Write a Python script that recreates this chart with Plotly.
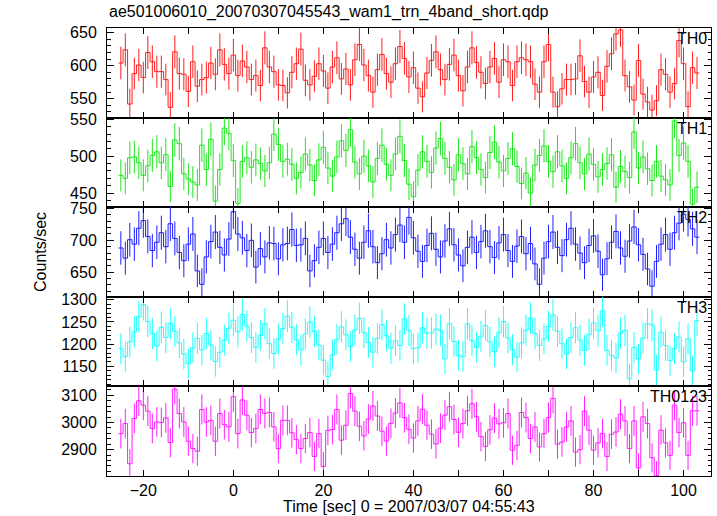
import numpy as np
import plotly.graph_objects as go
from plotly.subplots import make_subplots

# bin centres [sec], 1 s bins
time = list(range(-25, 104))

th0 = [604, 624, 542, 588, 601, 582, 620, 606, 591, 591, 579, 537, 621, 588, 587, 561, 606, 569, 579, 582,
       604, 587, 624, 602, 588, 616, 585, 607, 598, 579, 585, 570, 627, 598, 591, 571, 570, 559, 590, 603,
       625, 578, 571,
       584, 603, 592, 566, 598, 612, 580, 595, 571, 609, 632, 601, 585, 560, 594, 617, 588, 575, 603, 629,
       611, 583, 597, 566, 553, 589, 608, 621, 594, 579, 602, 616, 585, 562, 598, 627, 605, 590, 573, 598, 611,
       575, 609, 606, 570, 606, 612, 609, 606, 572, 560, 606, 632, 560, 538, 565, 579, 579, 580, 615, 576,
       560, 583, 590, 555, 599, 618, 648, 654, 585, 568, 548, 608, 557, 545, 533, 547, 594, 587, 560, 573,
       638, 603, 538, 597, 589]

th1 = [474, 470, 498, 499, 491, 474, 487, 501, 506, 491, 502, 459, 522, 517, 476, 469, 465, 461, 515, 482,
       523, 439, 482, 538, 531, 494, 436, 493, 498, 485, 495, 490, 480, 491, 530, 516, 493, 496, 489, 470,
       478, 503, 488, 467, 495, 512, 484, 473, 499, 521, 508, 536, 492, 476, 500, 487, 465, 497, 515, 489,
       474, 503, 527, 494, 462, 445, 481, 506, 493, 478, 511, 524, 497, 485, 468, 502, 490, 476, 513, 498,
       482, 471, 505, 519, 492, 480, 497, 510, 486, 463, 477, 450, 488, 501, 514, 493, 479, 506, 487, 470,
       498, 517, 491, 476, 503, 489, 472,
       482, 490, 502, 458, 486, 479, 471, 533, 484, 499, 483, 467, 493, 473, 468, 461, 548, 501, 518, 493,
       435, 458]

th2 = [688, 672, 701, 694, 719, 731, 706, 684, 697, 712, 690, 726, 703, 681, 668, 694, 710, 652, 631, 674,
       698, 713, 689, 677, 702,
       745, 710, 704, 684, 700, 658, 687, 674, 696, 695, 671, 693, 695, 717, 692, 693, 703, 652,
       668, 689, 703, 681, 694, 712, 726, 734, 705, 686, 672, 697, 715, 690, 665, 679, 701, 688, 709, 724,
       697, 736, 704, 683, 667, 692, 711, 686, 674, 699, 718, 693, 677, 660, 689, 705, 681, 698, 715, 690,
       673, 696, 709, 684, 667, 691, 706, 679, 695, 663, 631, 672, 698, 713, 689, 676, 701, 719, 694, 680,
       665, 692, 707, 683, 646, 671, 697, 714, 688, 675, 699, 721, 693, 678, 655, 628, 667, 694, 709, 686,
       712, 727, 741, 733, 718, 705]

th3 = [1190, 1172, 1205, 1228, 1262, 1289, 1251, 1224, 1196, 1238, 1215, 1247, 1229, 1203, 1178, 1156,
       1192, 1213, 1187, 1224, 1198, 1161, 1182, 1209, 1236, 1254, 1228, 1267, 1241, 1215, 1193, 1220,
       1246, 1201, 1179, 1212, 1235, 1263, 1238, 1210, 1187, 1223, 1250, 1229, 1198, 1164, 1127, 1176,
       1211, 1239, 1221, 1195, 1232, 1258, 1226, 1204, 1182, 1213, 1244, 1219, 1191, 1208,
       1197, 1257, 1231, 1190, 1192, 1237, 1225, 1225, 1234, 1231, 1167, 1246, 1206, 1175, 1172, 1246,
       1208, 1193,
       1218, 1242, 1205, 1183, 1226, 1251, 1214, 1188, 1171, 1203, 1232, 1259, 1224, 1197, 1212, 1240,
       1266, 1229, 1201, 1178, 1215, 1237, 1209, 1186, 1222, 1248, 1230,
       1275, 1186, 1175, 1169, 1225, 1231, 1122, 1193, 1167, 1214, 1246, 1243, 1142, 1227, 1197, 1163,
       1190, 1216, 1160, 1212, 1140, 1253]

th0123 = [2959, 2996, 2848, 3015, 3080, 3064, 3042, 2978, 3002, 3000, 3017, 2926, 3123, 3033, 3002, 2931,
          2904, 2894, 3048, 3002, 3008, 2931, 3033, 2992, 2984, 3095, 2959, 3083, 3027, 2963, 2978, 3048,
          3033, 3037, 2984, 2904, 3008, 3008, 2962, 2937, 2904, 2941, 2963, 2875, 2959, 2838, 2971, 2974,
          3048, 2935, 2990, 3107,
          3042, 2986, 2951, 3013, 3061, 3024, 2968, 2932, 2997, 3035, 3072, 3018, 2975, 2943, 3006, 3049,
          2990, 2957, 2921, 2979, 3027, 3058, 3011, 2964, 2996, 3043, 3069, 3021, 2948, 2912, 2973, 3016,
          2995,
          2999, 3033, 2898, 2916, 3037, 3018, 2941, 2984, 2910, 2959, 3018, 3089, 2920, 2928, 2984, 3006,
          2891, 2900, 3042, 2972, 2898, 2925, 2959, 2875, 2957, 2965, 3031, 3006, 2904, 3006, 2833, 3021,
          2996, 2870, 2805, 2972, 2925, 2879, 3064, 2963, 2999, 2879, 3043, 3043]

bands = ["TH0", "TH1", "TH2", "TH3", "TH0123"]
series = [th0, th1, th2, th3, th0123]
colors = ["#ff1f1f", "#1fe61f", "#1f1fff", "#1fffff", "#ff1fff"]
yranges = [(521.5, 657), (430.8, 552.4), (611.4, 752), (1105, 1306.7), (2803, 3133)]
ymajor = [50, 50, 50, 50, 100]
yminor = [10, 10, 10, 10, 20]
xrange_ = (-28.07, 106.1)

fig = make_subplots(rows=5, cols=1, shared_xaxes=True, vertical_spacing=0)

t = np.array(time, dtype=float)
edges = np.concatenate([t - 0.5, [t[-1] + 0.5]])

for i, (vals, col) in enumerate(zip(series, colors), start=1):
    v = np.array(vals, dtype=float)
    err = np.sqrt(v)
    fig.add_trace(go.Scatter(x=edges, y=np.concatenate([v, [v[-1]]]), mode="lines",
                             line=dict(color=col, width=1, shape="hv"), hoverinfo="skip"),
                  row=i, col=1)
    fig.add_trace(go.Scatter(x=t, y=v, mode="markers", marker=dict(size=0.1, color=col),
                             error_y=dict(type="data", array=err, width=0, thickness=1, color=col)),
                  row=i, col=1)
    fig.update_yaxes(range=list(yranges[i - 1]), dtick=ymajor[i - 1], tick0=0,
                     ticks="inside", ticklen=7, tickwidth=1, tickcolor="black",
                     minor=dict(dtick=yminor[i - 1], ticks="inside", ticklen=3.5, tickcolor="black"),
                     showline=True, linecolor="black", linewidth=1, mirror="allticks",
                     showgrid=False, zeroline=False, ticklabelstandoff=6,
                     tickfont=dict(size=16, color="black"), row=i, col=1)
    fig.update_xaxes(range=list(xrange_), dtick=20, tick0=0,
                     ticks="inside", ticklen=6, tickwidth=1, tickcolor="black",
                     minor=dict(dtick=10, ticks="inside", ticklen=6, tickcolor="black"),
                     showline=True, linecolor="black", linewidth=1, mirror="allticks",
                     showgrid=False, zeroline=False, showticklabels=(i == 5),
                     tickfont=dict(size=16, color="black"), row=i, col=1)
    yref = "y domain" if i == 1 else f"y{i} domain"
    fig.add_annotation(text=bands[i - 1], xref="paper", x=0.997, xanchor="right",
                       yref=yref, y=1, yanchor="top", showarrow=False,
                       font=dict(size=16, color="black"))

fig.add_annotation(text="ae501006010_20070307045543_wam1_trn_4band_short.qdp",
                   xref="paper", x=0, xanchor="left", yref="paper", y=1.036, yanchor="middle",
                   showarrow=False, font=dict(size=16, color="black"))
fig.add_annotation(text="Counts/sec", textangle=-90, xref="paper", x=-0.111, xanchor="center",
                   yref="paper", y=0.5, yanchor="middle", showarrow=False,
                   font=dict(size=16, color="black"))
fig.add_annotation(text="Time [sec] 0 = 2007/03/07 04:55:43", xref="paper", x=0.5, xanchor="center",
                   yref="paper", y=-0.069, yanchor="middle", showarrow=False,
                   font=dict(size=16, color="black"))

fig.update_layout(width=717, height=516, margin=dict(l=107, r=6, t=28, b=40),
                  showlegend=False, plot_bgcolor="white", paper_bgcolor="white",
                  hovermode=False,
                  font=dict(family="Liberation Sans, Arial, sans-serif", size=16, color="black"))

# remove the default 8px page margin so the figure fills the window exactly
fig.write_html("out.html", config={"displayModeBar": False, "staticPlot": True},
               post_script="document.body.style.margin='0';document.body.style.overflow='hidden';")
